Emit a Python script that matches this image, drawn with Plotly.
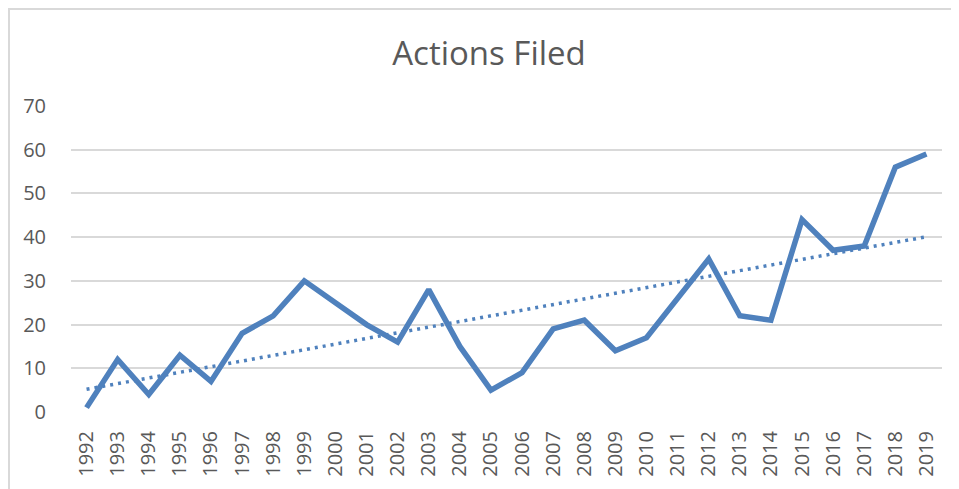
import numpy as np
import plotly.graph_objects as go

years = [str(y) for y in range(1992, 2020)]
actions = [1, 12, 4, 13, 7, 18, 22, 30, 25, 20, 16, 28, 15, 5, 9, 19, 21, 14, 17,
           26, 35, 22, 21, 44, 37, 38, 56, 59]

# linear trendline like Excel's
idx = np.arange(1, len(actions) + 1)
slope, icpt = np.polyfit(idx, actions, 1)
trend = slope * idx + icpt

blue = "#4F81BD"
grey = "#595959"

# page body has an 8px margin, so the figure sits 8px in from the top-left
OFF = 8
FW, FH = 959 - OFF, 489 - OFF
L, T = 71 - OFF, 106 - OFF
W, H = 871, 306

def px(x): return (x - OFF - L) / W
def py(y): return (T + H - (y - OFF)) / H

fig = go.Figure()
fig.add_trace(go.Scatter(x=years, y=trend, mode="lines",
                         line=dict(color=blue, width=3.5, dash="3px,5px"),
                         hoverinfo="skip", showlegend=False))
fig.add_trace(go.Scatter(x=years, y=actions, mode="lines",
                         line=dict(color=blue, width=5.5),
                         showlegend=False))

# chart border (top & left visible)
border = dict(color="#D9D9D9", width=2)
fig.add_shape(type="line", xref="paper", yref="paper",
              x0=px(8), x1=px(960), y0=py(9), y1=py(9), line=border)
fig.add_shape(type="line", xref="paper", yref="paper",
              x0=px(9), x1=px(9), y0=py(8), y1=py(490), line=border)

fig.update_layout(
    width=FW, height=FH,
    margin=dict(l=L, r=FW - L - W, t=T, b=FH - T - H),
    paper_bgcolor="white", plot_bgcolor="white",
    font=dict(family="Open Sans", color=grey, size=20),
    title=dict(text="Actions Filed", x=(489 - OFF) / FW, xanchor="center",
               y=1 - (53 - OFF) / FH, yanchor="middle",
               font=dict(size=33, color=grey, family="Open Sans")),
    xaxis=dict(type="category", range=[-0.5, 27.5], showgrid=False,
               showline=False, zeroline=False, tickangle=-90,
               automargin=False,
               ticklabelstandoff=14, tickfont=dict(size=20)),
    yaxis=dict(range=[0, 70], dtick=10, showgrid=True, gridcolor="#D9D9D9",
               gridwidth=1.5, zeroline=False, showline=False,
               automargin=False,
               ticklabelstandoff=24, tickfont=dict(size=20)),
)

fig.write_html("out.html")
